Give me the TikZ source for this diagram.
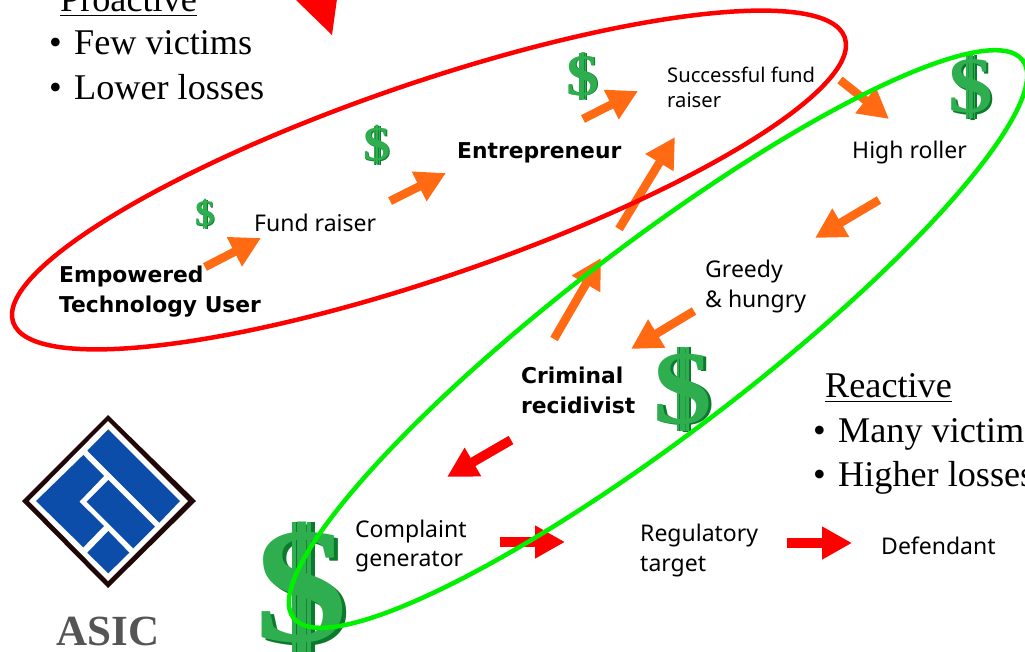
\documentclass[tikz,border=0pt]{standalone}
\usepackage{fontspec}
\usetikzlibrary{arrows.meta}
\setmainfont{Liberation Serif}
\newfontfamily\labelfont{Noto Sans}
\newfontfamily\boldlabelfont{DejaVu Sans}
\definecolor{ringred}{HTML}{FF0000}
\definecolor{ringgreen}{HTML}{00F000}
\definecolor{arroworange}{HTML}{FF6A13}
\definecolor{cashlight}{HTML}{2FAE50}
\definecolor{cashdark}{HTML}{0B7A2C}
\definecolor{logoblue}{HTML}{0B4DA8}
\definecolor{logoblack}{HTML}{200808}
\definecolor{asicgrey}{HTML}{555555}
\tikzset{
  txt/.style={inner sep=0pt,anchor=base west,text=black},
  serifbig/.style={txt,font=\fontsize{36.2}{36.2}\selectfont},
  lab/.style={txt,font=\labelfont\fontsize{23}{23}\selectfont},
  labsmall/.style={txt,font=\labelfont\fontsize{20.2}{20.2}\selectfont},
  labbold/.style={txt,font=\boldlabelfont\bfseries\fontsize{21.8}{21.8}\selectfont},
  blockorange/.style={line width=8.5pt,draw=arroworange,-{Triangle[length=30pt,width=31pt]}},
  blockred/.style={line width=9.5pt,draw=ringred,-{Triangle[length=30pt,width=31pt]}},
  ring/.style={line width=4.5pt},
  logopiece/.style={fill=logoblue,draw=none},
  cash/.style={inner sep=0pt,anchor=center,xscale=1.12,transform shape},
}
% #1 name, #2 x, #3 y, #4 height of the sign
\newcommand{\cashsign}[4]{%
  \pgfmathsetmacro\cashfs{#4*1.25}%
  \fill[cashdark] ({#2-#4*0.075},{#3-#4*0.5}) rectangle ({#2-#4*0.02},{#3+#4*0.5});
  \fill[cashdark] ({#2+#4*0.04},{#3-#4*0.5}) rectangle ({#2+#4*0.095},{#3+#4*0.5});
  \node[cash,text=cashdark,font=\bfseries\fontsize{\cashfs}{\cashfs}\selectfont] (#1s) at ({#2+#4*0.03},{#3+#4*0.02}) {\$};
  \node[cash,text=cashlight,font=\bfseries\fontsize{\cashfs}{\cashfs}\selectfont] (#1) at (#2,#3) {\$};
  \fill[cashlight] ({#2-#4*0.075},{#3-#4*0.5}) rectangle ({#2-#4*0.045},{#3+#4*0.5});
  \fill[cashlight] ({#2+#4*0.04},{#3-#4*0.5}) rectangle ({#2+#4*0.07},{#3+#4*0.5});
}
\begin{document}
\begin{tikzpicture}[x=1pt,y=-1pt]
\useasboundingbox (0,0) rectangle (1025,651);
\clip (0,0) rectangle (1025,651);
\fill[white] (0,0) rectangle (1025,651);

% serif notes
\node[serifbig] (pro) at (60,11) {Proactive};
\draw[line width=1.5pt] ([yshift=-4.5pt]pro.base west) -- ([yshift=-4.5pt]pro.base east);
\node[serifbig] (bulA) at (49,54) {•};
\node[serifbig] (few) at (74,54) {Few victims};
\node[serifbig] (bulB) at (49,99) {•};
\node[serifbig] (low) at (74,99) {Lower losses};
\node[serifbig] (rea) at (825,397) {Reactive};
\draw[line width=1.5pt] ([yshift=-4.5pt]rea.base west) -- ([yshift=-4.5pt]rea.base east);
\node[serifbig] (bulC) at (813,442) {•};
\node[serifbig] (many) at (838,442) {Many victims};
\node[serifbig] (bulD) at (813,486) {•};
\node[serifbig] (high) at (838,486) {Higher losses};

% top cut-off arrow head
\fill[ringred] (295,-1) -- (337,-1) -- (332,35) -- cycle;

% logo
\fill[logoblack] (108,415) -- (196,501) -- (108,588) -- (22,501) -- cycle;
\fill[white] (108,421) -- (188,501) -- (108,581) -- (29,501) -- cycle;
\fill[logopiece] (108.3,429.3) -- (180,501) -- (159.3,522.7) -- (87.3,450.7) -- cycle;
\fill[logopiece] (36,501) -- (83.3,455) -- (104,476) -- (79.3,501.7) -- (104,526) -- (83.3,547.3) -- cycle;
\fill[logopiece] (108.3,480) -- (155,526.7) -- (133.3,548.3) -- (86.7,501.7) -- cycle;
\fill[logopiece] (108.3,531) -- (129.3,552.7) -- (108.3,573.3) -- (87.3,552.7) -- cycle;
\node[txt,anchor=base,text=asicgrey,font=\bfseries\fontsize{43}{43}\selectfont] (asic) at (108,645) {ASIC};

% dollars
\cashsign{dA}{205}{214}{29}
\cashsign{dB}{377}{145}{39}
\cashsign{dC}{583}{76}{47}
\cashsign{dD}{971}{87}{64}
\cashsign{dE}{683}{389}{84}
\cashsign{dF}{302}{588}{132}

% arrow ends
\coordinate (a1) at (205,267); \coordinate (b1) at (261,238);
\coordinate (a2) at (390,201); \coordinate (b2) at (446,173);
\coordinate (a3) at (583,119); \coordinate (b3) at (638,91);
\coordinate (a4) at (840,80);  \coordinate (b4) at (889,119);
\coordinate (a5) at (879,200); \coordinate (b5) at (815,238);
\coordinate (a6) at (694,311); \coordinate (b6) at (631,349);
\coordinate (a7) at (554,339); \coordinate (b7) at (601,258);
\coordinate (a8) at (619,229); \coordinate (b8) at (675,137);
\coordinate (a9) at (511,440); \coordinate (b9) at (447,477);
\coordinate (a10) at (500,542); \coordinate (b10) at (565,542);
\coordinate (a11) at (787,543); \coordinate (b11) at (852,543);
\foreach \n in {1,...,8} \draw[blockorange] (a\n) -- (b\n);
\foreach \n in {9,10,11} \draw[blockred] (a\n) -- (b\n);

% rings
\draw[ring,draw=ringred] (429,180) ellipse [x radius=439.5pt,y radius=97pt,rotate=18.9];
\draw[ring,draw=ringgreen] (658,339) ellipse [x radius=459pt,y radius=94.6pt,rotate=37.4];

% labels
\node[labbold] (empA) at (59,282) {Empowered};
\node[labbold] (empB) at (59,312) {Technology User};
\node[lab] (fund) at (254,231) {Fund raiser};
\node[labbold] (ent) at (457,158) {Entrepreneur};
\node[labsmall] (sucA) at (667,82) {Successful fund};
\node[labsmall] (sucB) at (667,107) {raiser};
\node[lab] (roller) at (852,158) {High roller};
\node[lab] (grA) at (705,277) {Greedy};
\node[lab] (grB) at (705,307) {\& hungry};
\node[labbold] (crA) at (521,383) {Criminal};
\node[labbold] (crB) at (521,413) {recidivist};
\node[lab] (coA) at (355,537) {Complaint};
\node[lab] (coB) at (355,566) {generator};
\node[lab] (reA) at (640,541) {Regulatory};
\node[lab] (reB) at (640,571) {target};
\node[lab] (def) at (881,554) {Defendant};
\end{tikzpicture}
\end{document}
